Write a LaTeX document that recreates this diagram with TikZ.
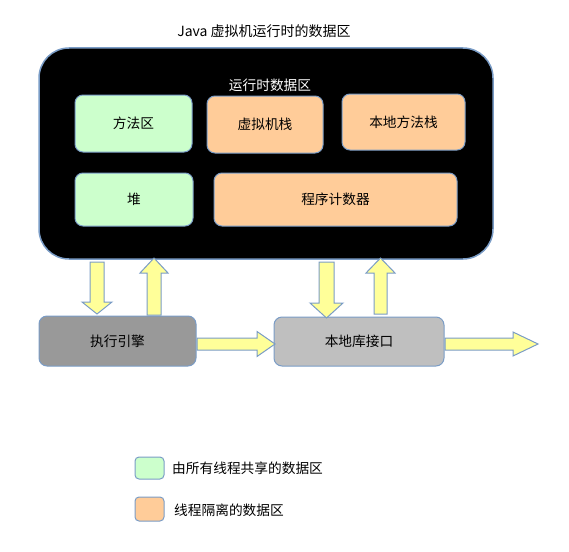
\documentclass[tikz,border=0pt]{standalone}
\usepackage{fontspec}
\setmainfont{Noto Sans CJK SC}
\usetikzlibrary{calc}
\definecolor{edge}{RGB}{122,156,198}
\definecolor{shared}{RGB}{204,255,204}
\definecolor{private}{RGB}{255,204,153}
\definecolor{arrowfill}{RGB}{255,255,153}
\definecolor{enginefill}{RGB}{153,153,153}
\definecolor{nativefill}{RGB}{191,191,191}
\tikzset{
  areabox/.style={draw=edge, line width=1pt, rounded corners=8pt, inner sep=0pt, font=\fontsize{13.7}{16}\selectfont},
  blk/.style={draw=edge, fill=arrowfill, line width=1pt, line join=miter},
  lbl/.style={inner sep=0pt, font=\fontsize{13.7}{16}\selectfont}
}
% vertical block arrow: x, y tail, y tip, shaft half width, head half width, head length
\newcommand\vblk[6]{%
  \pgfmathsetmacro\hb{#3 > #2 ? #3-#6 : #3+#6}%
  \draw[blk] ({#1-#4},#2) -- ({#1+#4},#2) -- ({#1+#4},\hb) -- ({#1+#5},\hb) -- (#1,#3)
    -- ({#1-#5},\hb) -- ({#1-#4},\hb) -- cycle;}
% horizontal block arrow: y, x tail, x tip, shaft half width, head half width, head length
\newcommand\hblk[6]{%
  \draw[blk] (#2,{#1-#4}) -- ({#3-#6},{#1-#4}) -- ({#3-#6},{#1-#5}) -- (#3,#1)
    -- ({#3-#6},{#1+#5}) -- ({#3-#6},{#1+#4}) -- (#2,{#1+#4}) -- cycle;}
\begin{document}
\begin{tikzpicture}[x=1pt,y=-1pt]
\useasboundingbox (0,0) rectangle (569,551);
% title
\node[lbl, font=\fontsize{14}{16}\selectfont] (title) at (264,31) {Java 虚拟机运行时的数据区};
% runtime data area
\draw[draw=edge, fill=black, line width=1.5pt, rounded corners=30pt] (39,48) rectangle (493,259);
\node[lbl, text=white] (rt) at (270,85) {运行时数据区};
\node[areabox, fill=shared, minimum width=117pt, minimum height=57pt] (method) at (133.5,123.5) {方法区};
\node[areabox, fill=private, minimum width=116pt, minimum height=57pt] (vmstack) at (265,124.5) {虚拟机栈};
\node[areabox, fill=private, minimum width=123pt, minimum height=56pt] (nstack) at (403.5,122) {本地方法栈};
\node[areabox, fill=shared, minimum width=118pt, minimum height=53pt] (heap) at (134,199.5) {堆};
\node[areabox, fill=private, minimum width=243pt, minimum height=53pt] (pc) at (335.5,199.5) {程序计数器};
% lower boxes
\node[areabox, fill=enginefill, minimum width=157pt, minimum height=50pt] (engine) at (117.5,341) {执行引擎};
\node[areabox, fill=nativefill, minimum width=170pt, minimum height=49pt] (native) at (359,341.5) {本地库接口};
% block arrows
\vblk{97}{262}{314}{7}{15}{12}
\vblk{154}{315}{258}{7}{14}{15}
\vblk{326.5}{262}{318}{7.5}{16.5}{15}
\vblk{380.5}{314}{258}{6.5}{14.5}{15}
\hblk{344}{197}{275}{6}{12.5}{18}
\hblk{344}{445}{538}{6}{12}{25}
% legend
\node[areabox, fill=shared, rounded corners=4pt, minimum width=29pt, minimum height=22pt] (lg1) at (149.5,468) {};
\node[lbl, anchor=west] (lt1) at (172,468) {由所有线程共享的数据区};
\node[areabox, fill=private, rounded corners=4pt, minimum width=29pt, minimum height=24pt] (lg2) at (149.5,509) {};
\node[lbl, anchor=west] (lt2) at (174,510) {线程隔离的数据区};
\end{tikzpicture}
\end{document}
